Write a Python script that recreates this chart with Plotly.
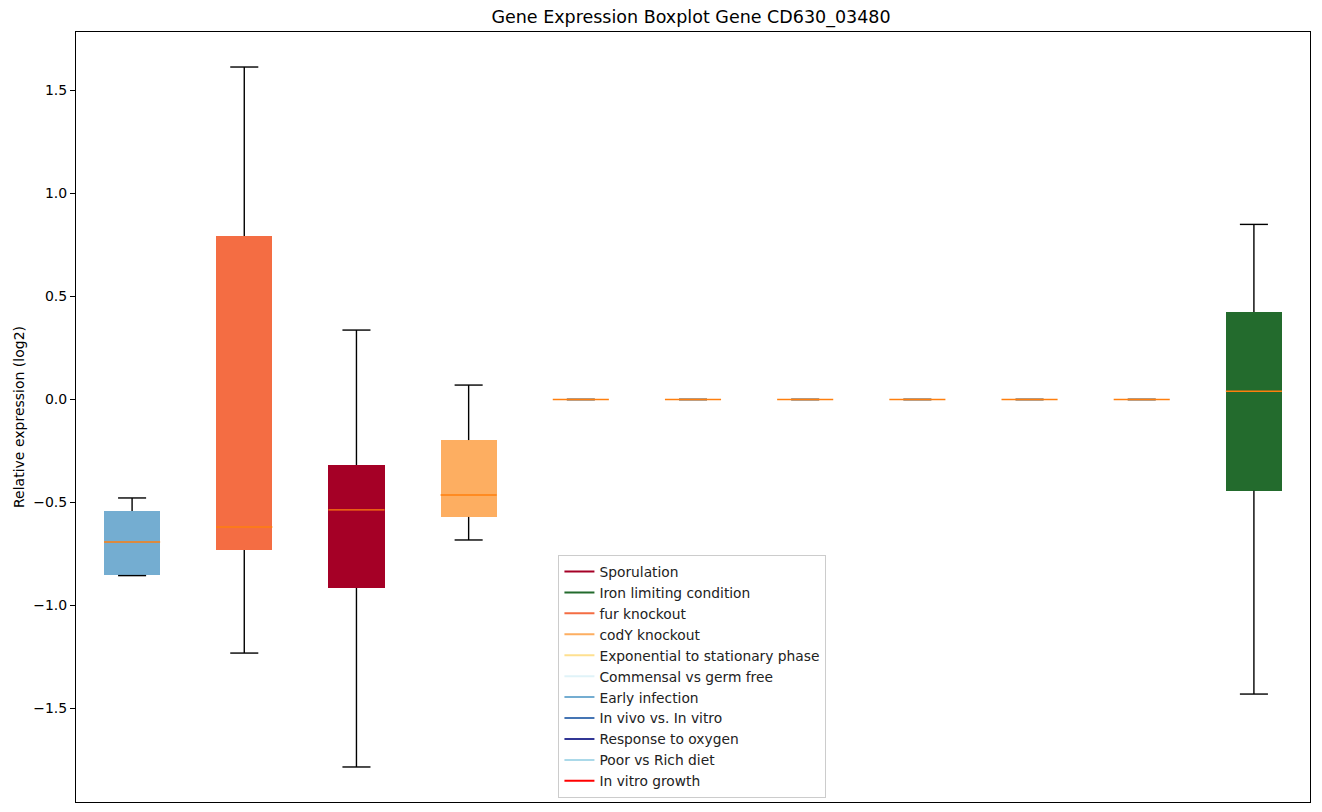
import plotly.graph_objects as go

# ---- data ----
legend_names = ["Sporulation", "Iron limiting condition", "fur knockout", "codY knockout",
                "Exponential to stationary phase", "Commensal vs germ free", "Early infection",
                "In vivo vs. In vitro", "Response to oxygen", "Poor vs Rich diet", "In vitro growth"]
legend_colors = ["#a50026", "#236b2d", "#f46d43", "#fdae61", "#fee090", "#e0f3f8",
                 "#74add1", "#4575b4", "#313695", "#abd9e9", "#ff0000"]

positions = [1, 2, 3, 4, 5, 6, 7, 8, 9, 10, 11]
box_conditions = ["Early infection", "fur knockout", "Sporulation", "codY knockout",
                  "Exponential to stationary phase", "Commensal vs germ free", "In vitro growth",
                  "In vivo vs. In vitro", "Poor vs Rich diet", "Response to oxygen",
                  "Iron limiting condition"]
lower_whisker = [-0.855, -1.231, -1.784, -0.682, 0, 0, 0, 0, 0, 0, -1.430]
q1 = [-0.852, -0.731, -0.915, -0.570, 0, 0, 0, 0, 0, 0, -0.443]
median = [-0.692, -0.619, -0.536, -0.464, 0, 0, 0, 0, 0, 0, 0.040]
q3 = [-0.541, 0.794, -0.318, -0.197, 0, 0, 0, 0, 0, 0, 0.425]
upper_whisker = [-0.478, 1.614, 0.337, 0.070, 0, 0, 0, 0, 0, 0, 0.850]
y_ticks = [-1.5, -1.0, -0.5, 0.0, 0.5, 1.0, 1.5]

title = "Gene Expression Boxplot Gene CD630_03480"
y_title = "Relative expression (log2)"

color_of = dict(zip(legend_names, legend_colors))
box_colors = [color_of[c] for c in box_conditions]

BOX_W = 0.5
CAP_W = 0.25
FONT = "DejaVu Sans"
LW = 1.4

fig = go.Figure()

# whiskers
wx, wy = [], []
for p, lo, a, b, hi in zip(positions, lower_whisker, q1, q3, upper_whisker):
    wx += [p, p, None, p, p, None]
    wy += [b, hi, None, a, lo, None]
fig.add_trace(go.Scatter(x=wx, y=wy, mode="lines", line=dict(color="black", width=LW),
                         showlegend=False, hoverinfo="skip"))

# caps
cx, cy = [], []
for p, lo, hi in zip(positions, lower_whisker, upper_whisker):
    cx += [p - CAP_W / 2, p + CAP_W / 2, None, p - CAP_W / 2, p + CAP_W / 2, None]
    cy += [hi, hi, None, lo, lo, None]
fig.add_trace(go.Scatter(x=cx, y=cy, mode="lines", line=dict(color="black", width=LW),
                         showlegend=False, hoverinfo="skip"))

# boxes
fig.add_trace(go.Bar(x=positions, base=q1, y=[b - a for a, b in zip(q1, q3)],
                     width=BOX_W, marker=dict(color=box_colors, line=dict(width=0)),
                     showlegend=False, hoverinfo="skip"))

# medians
mx, my = [], []
for p, m in zip(positions, median):
    mx += [p - BOX_W / 2, p + BOX_W / 2, None]
    my += [m, m, None]
fig.add_trace(go.Scatter(x=mx, y=my, mode="lines", line=dict(color="#ff7f0e", width=LW),
                         showlegend=False, hoverinfo="skip"))

# legend entries
for name, col in zip(legend_names, legend_colors):
    fig.add_trace(go.Scatter(x=[None], y=[None], mode="lines", name=name,
                             line=dict(color=col, width=2)))

# the page body adds an 8px offset; the figure is sized to fill the rest of the window
W, H, OFF = 1322 - 8, 812 - 8, 8
fig.update_layout(
    width=W, height=H,
    margin=dict(l=72 - OFF, r=12, t=32 - OFF, b=10),
    paper_bgcolor="white", plot_bgcolor="white",
    font=dict(family=FONT, size=14, color="black"),
    title=dict(text=title, x=(72 - OFF + 1238 / 2) / W, xanchor="center",
               y=1 - (17 - OFF) / H, yanchor="middle",
               font=dict(family=FONT, size=17.5, color="black")),
    showlegend=True,
    legend=dict(x=(556 - 72) / 1238, y=(802 - 798) / 770, xanchor="left", yanchor="bottom",
                bgcolor="rgba(255,255,255,0.8)", bordercolor="#cccccc", borderwidth=1,
                font=dict(family=FONT, size=13.8, color="#222222"), tracegroupgap=0),
    bargap=0,
)
fig.update_xaxes(range=[0.5, 11.5], showticklabels=False, ticks="", showgrid=False,
                 zeroline=False, showline=True, mirror=True, linecolor="black", linewidth=1)
fig.update_yaxes(range=[-1.954, 1.784], tickvals=y_ticks, tickformat=".1f",
                 ticks="outside", ticklen=5, tickcolor="black", showgrid=False, zeroline=False,
                 showline=True, mirror=True, linecolor="black", linewidth=1,
                 tickfont=dict(family=FONT, size=14, color="black"),
                 title=dict(text=y_title, font=dict(family=FONT, size=14, color="black"),
                            standoff=5))

fig.write_html("out.html")
